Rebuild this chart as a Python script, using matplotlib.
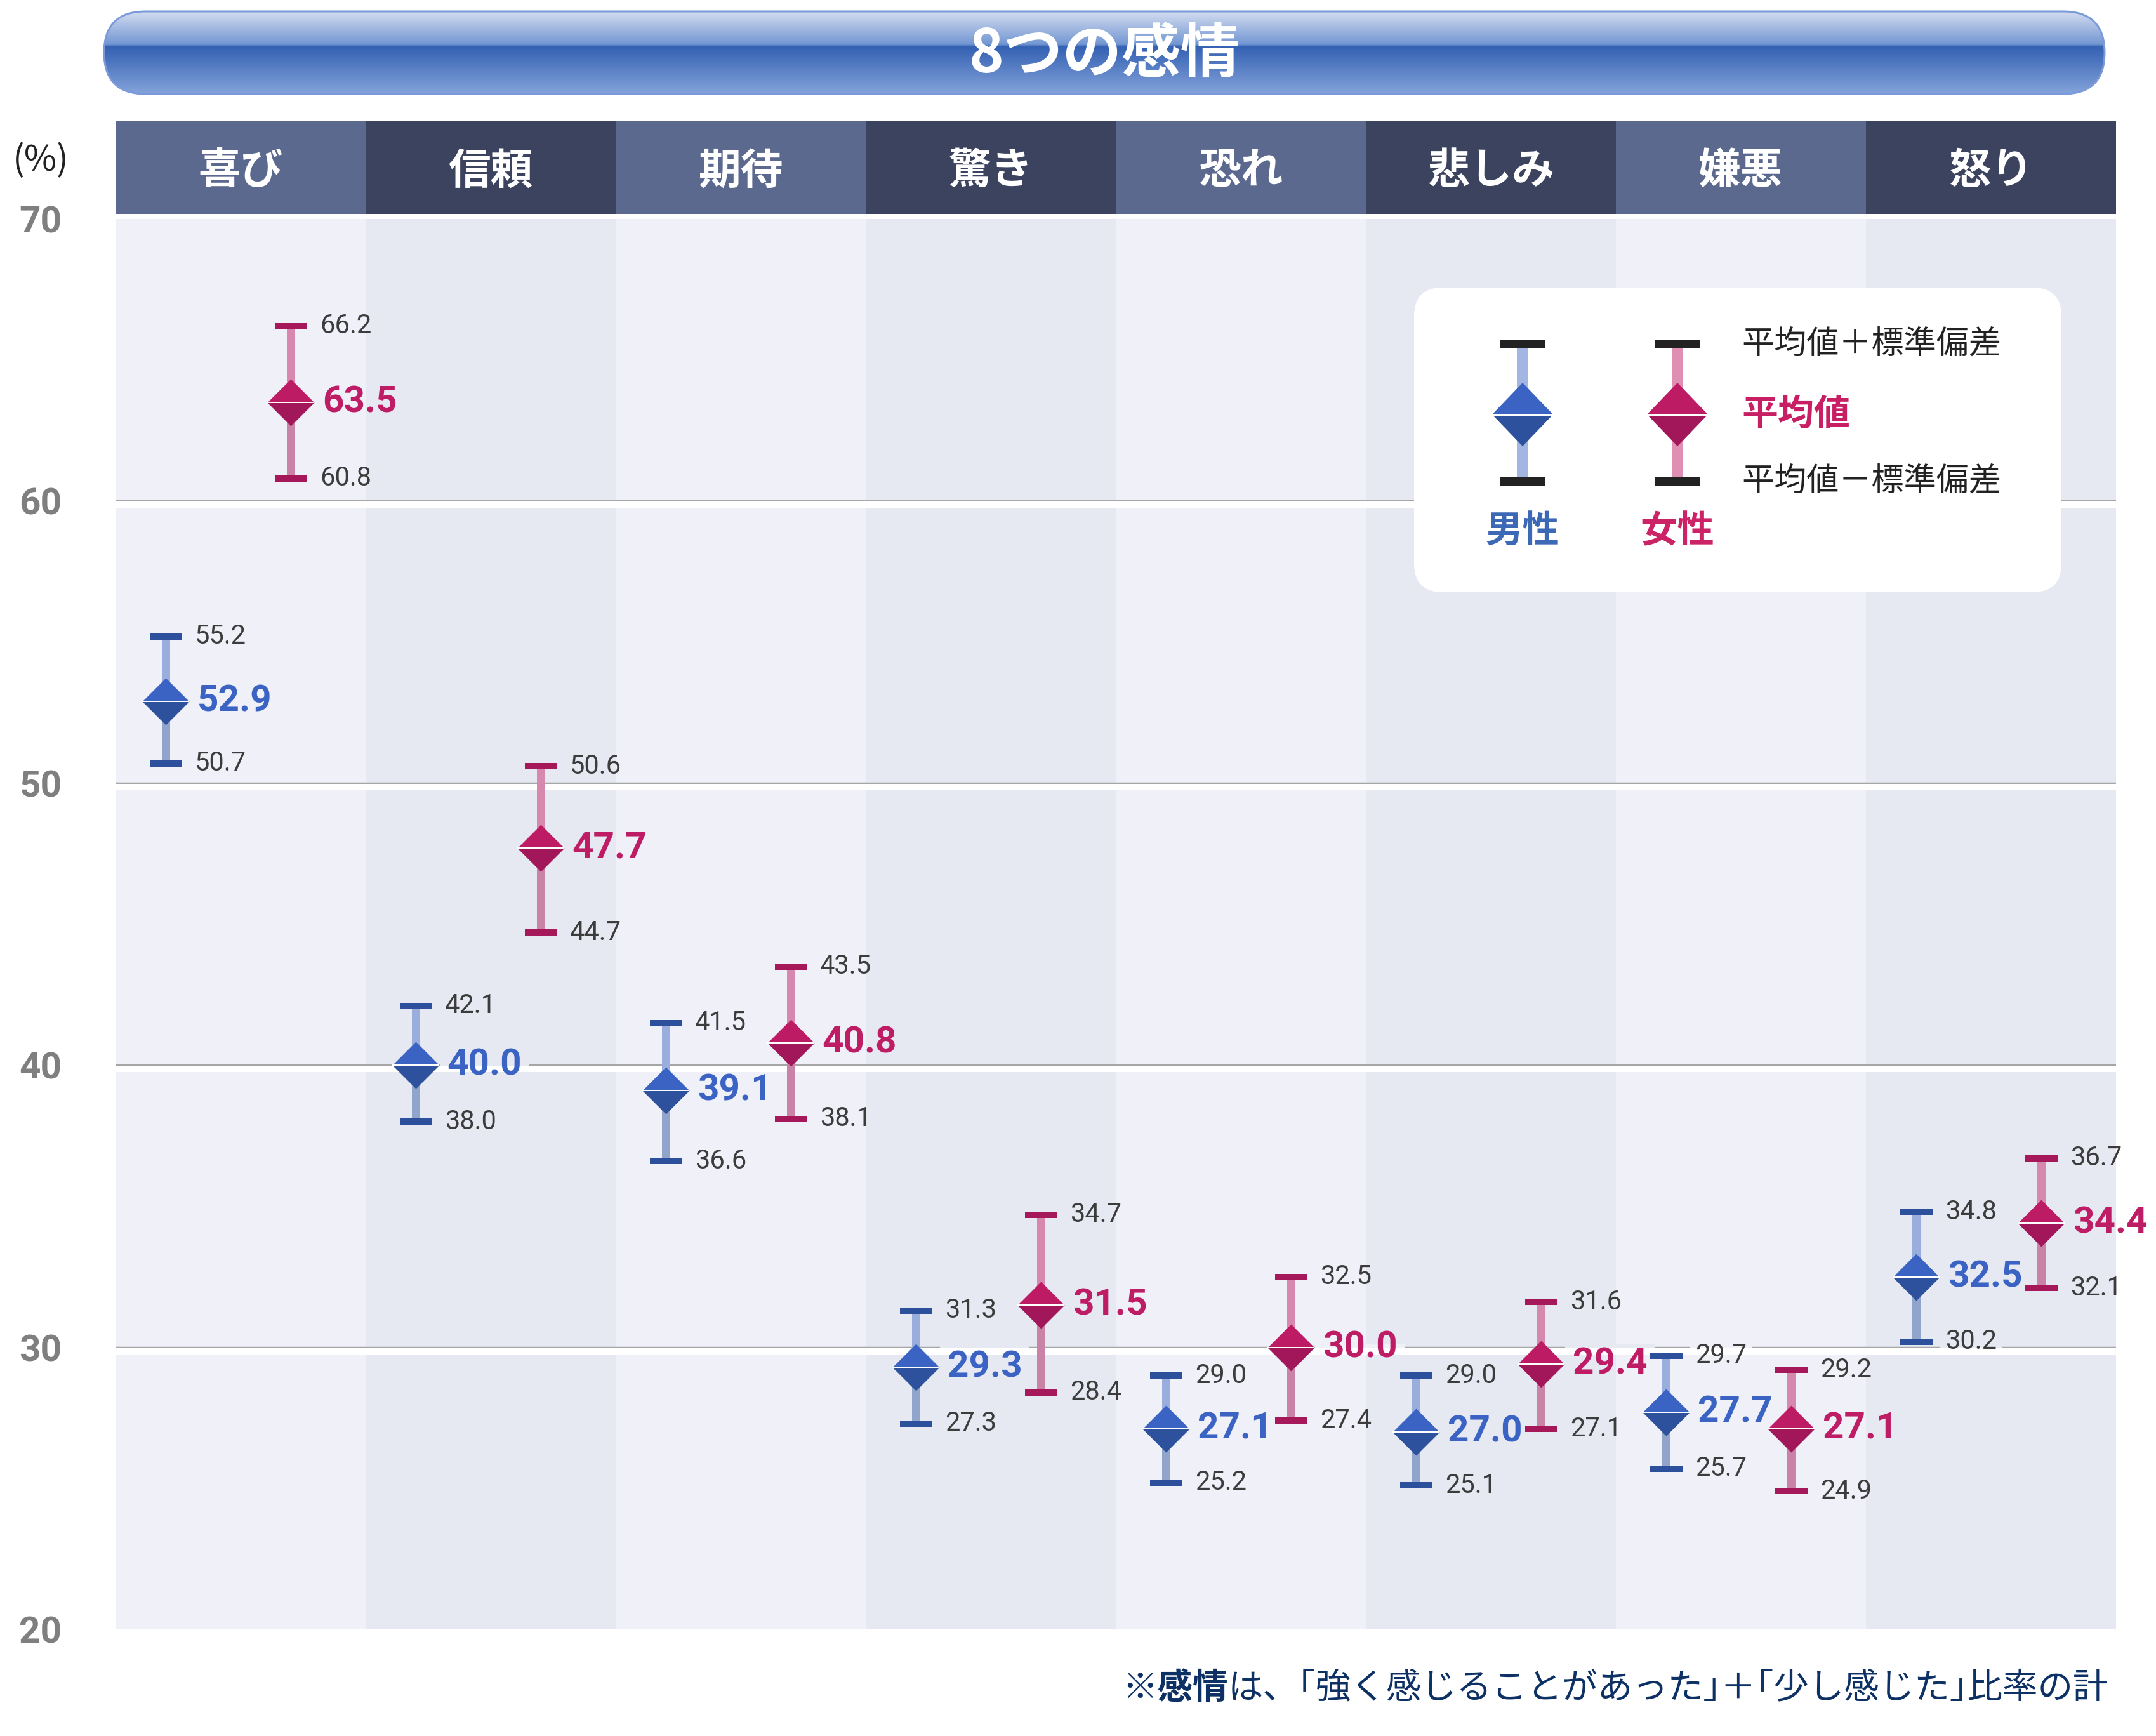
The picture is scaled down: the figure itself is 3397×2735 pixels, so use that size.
import numpy as np
import matplotlib
matplotlib.use('Agg')
import matplotlib.pyplot as plt
import matplotlib.transforms as mtransforms
from matplotlib.patches import FancyBboxPatch, Rectangle, Polygon
from matplotlib.colors import LinearSegmentedColormap

# data
emotions = ['喜び', '信頼', '期待', '驚き', '恐れ', '悲しみ', '嫌悪', '怒り']
male_mean = [52.9, 40.0, 39.1, 29.3, 27.1, 27.0, 27.7, 32.5]
male_upper = [55.2, 42.1, 41.5, 31.3, 29.0, 29.0, 29.7, 34.8]
male_lower = [50.7, 38.0, 36.6, 27.3, 25.2, 25.1, 25.7, 30.2]
female_mean = [63.5, 47.7, 40.8, 31.5, 30.0, 29.4, 27.1, 34.4]
female_upper = [66.2, 50.6, 43.5, 34.7, 32.5, 31.6, 29.2, 36.7]
female_lower = [60.8, 44.7, 38.1, 28.4, 27.4, 27.1, 24.9, 32.1]
y_ticks = [20, 30, 40, 50, 60, 70]
grid_levels = [30, 40, 50, 60]

title = '8つの感情'
footnote_bold = '※感情'
footnote = 'は、｢強く感じることがあった｣＋｢少し感じた｣比率の計'

W, H = 3398, 2735
DPI = 200
PX = 72 / DPI  # points per pixel

JP = ['Noto Sans CJK JP', 'DejaVu Sans']
NUM = ['Roboto', 'DejaVu Sans']

COL_BG = ['#EFF0F8', '#E6E9F2']
HEAD_BG = ['#5C698F', '#3B435E']
MALE = dict(up='#9AAEDD', low='#91A4CB', cap='#2D509D', top='#3A63C4', bot='#2D519C', text='#3A63C4')
FEMALE = dict(up='#D788AE', low='#C883A7', cap='#A5185A', top='#BD1C64', bot='#A2175A', text='#BE1C64')

fig = plt.figure(figsize=(W / DPI, H / DPI), dpi=DPI)


def frac(x0, y0, x1, y1):
    # pixel box (top-left origin) -> figure fraction rect
    return [x0 / W, 1 - y1 / H, (x1 - x0) / W, (y1 - y0) / H]


# background layer in pixel coordinates
bg = fig.add_axes([0, 0, 1, 1], zorder=0)
bg.set_xlim(0, W)
bg.set_ylim(H, 0)
bg.axis('off')

# title bar with glossy gradient
stops = [(0.0, '#D3DCF0'), (0.40, '#7296D2'), (0.425, '#3461B3'), (1.0, '#84A3DA')]
cmap = LinearSegmentedColormap.from_list('title', stops)
bar = FancyBboxPatch((164, 18), 3152, 130, boxstyle='round,pad=0,rounding_size=65',
                     fc='none', ec='#7A9ADA', lw=3 * PX, zorder=3)
bg.add_patch(bar)
im = bg.imshow(np.linspace(0, 1, 256).reshape(-1, 1), extent=(164, 3316, 148, 18),
               aspect='auto', cmap=cmap, zorder=2)
im.set_clip_path(bar)
bg.text(1740, 86, title, ha='center', va='center', color='white', fontsize=33.5,
        fontweight='bold', family=JP, zorder=4)

bg.text(64, 253, '(%)', ha='center', va='center', color='#222222', fontsize=20, family=JP)

# footnote
fn = bg.text(3322, 2660, footnote, ha='right', va='center', color='#0D3164',
             fontsize=20, family=JP)
bg.annotate(footnote_bold, xy=(0, 0.5), xycoords=fn, ha='right', va='center',
            color='#0D3164', fontsize=20, fontweight='bold', family=JP)

# header band
hx = fig.add_axes(frac(182, 191, 3334, 337), zorder=1)
hx.set_xlim(-0.5, len(emotions) - 0.5)
hx.set_ylim(0, 1)
hx.axis('off')
for i, name in enumerate(emotions):
    hx.axvspan(i - 0.5, i + 0.5, color=HEAD_BG[i % 2], lw=0)
    hx.text(i, 0.46, name, ha='center', va='center', color='white', fontsize=24,
            fontweight='bold', family=JP)

# main plot
ax = fig.add_axes(frac(182, 345, 3334, 2567), zorder=1)
ax.set_xlim(-0.5, len(emotions) - 0.5)
ax.set_ylim(20, 70)
for s in ax.spines.values():
    s.set_visible(False)
ax.set_facecolor('none')
ax.set_xticks([])
ax.set_yticks(y_ticks)
ax.tick_params(axis='y', length=0, pad=118 * PX)
for t in ax.get_yticklabels():
    t.set_horizontalalignment('center')
    t.set_fontsize(21)
    t.set_fontweight('bold')
    t.set_color('#7F7F7F')
    t.set_family(NUM)

for i in range(len(emotions)):
    ax.axvspan(i - 0.5, i + 0.5, color=COL_BG[i % 2], lw=0, zorder=0)

band = ax.get_yaxis_transform() + mtransforms.ScaledTranslation(0, -6 / DPI, fig.dpi_scale_trans)
for g in grid_levels:
    ax.axhline(g, color='#A6A6A6', lw=2.5 * PX, zorder=2)
    ax.plot([0, 1], [g, g], transform=band, color='white', lw=10 * PX,
            solid_capstyle='butt', zorder=3)

TOP_HALF = [(-1, 0), (0, 1), (1, 0), (-1, 0)]
BOT_HALF = [(-1, 0), (0, -1), (1, 0), (-1, 0)]


def put_label(x, y, s, dx, col, reach, **kw):
    ax.annotate(s, (x, y), xytext=(dx * PX, 0), textcoords='offset points',
                ha='left', va='center', zorder=8, annotation_clip=False, **kw)
    near = min(grid_levels, key=lambda g: abs(g - y))
    if abs(near - y) < reach:
        # hide the gray grid line behind the label
        hid = ax.annotate(s, (x, y), xytext=(dx * PX, 0), textcoords='offset points',
                          ha='left', va='center', zorder=2.5, annotation_clip=False,
                          bbox=dict(boxstyle='square,pad=0.2', fc=COL_BG[col % 2], ec='none'),
                          **dict(kw, color=COL_BG[col % 2]))
        clip = Rectangle((-0.5, near - 0.12), len(emotions), 0.24, transform=ax.transData)
        hid.set_clip_path(clip)


def draw_series(offset, mean, upper, lower, c):
    xs = np.arange(len(mean)) + offset
    ax.vlines(xs, mean, upper, color=c['up'], lw=13 * PX, zorder=4)
    ax.vlines(xs, lower, mean, color=c['low'], lw=13 * PX, zorder=4)
    for v in (upper, lower):
        ax.plot(xs, v, ls='none', marker='_', ms=51 * PX, mew=10 * PX, color=c['cap'], zorder=5)
    ax.plot(xs, mean, ls='none', marker=TOP_HALF, ms=74 * PX, mew=0, color=c['top'], zorder=6)
    ax.plot(xs, mean, ls='none', marker=BOT_HALF, ms=74 * PX, mew=0, color=c['bot'], zorder=6)
    ax.plot(xs, mean, ls='none', marker='_', ms=74 * PX, mew=2 * PX, color='white', zorder=7)
    for i, x in enumerate(xs):
        col = int(round(x + 0.15))
        put_label(x, upper[i], f'{upper[i]:.1f}', 46, col, 0.45, fontsize=15,
                  color='#3C3C3C', family=NUM)
        put_label(x, lower[i], f'{lower[i]:.1f}', 46, col, 0.45, fontsize=15,
                  color='#3C3C3C', family=NUM)
        put_label(x, mean[i], f'{mean[i]:.1f}', 50, col, 0.7, fontsize=21,
                  fontweight='bold', color=c['text'], family=NUM)


draw_series(-0.3, male_mean, male_upper, male_lower, MALE)
draw_series(0.2, female_mean, female_upper, female_lower, FEMALE)

# legend overlay in pixel coordinates
ov = fig.add_axes([0, 0, 1, 1], zorder=3)
ov.set_xlim(0, W)
ov.set_ylim(H, 0)
ov.axis('off')
ov.add_patch(FancyBboxPatch((2228, 453), 1020, 480, boxstyle='round,pad=0,rounding_size=45',
                            fc='white', ec='none'))
for kx, c, name, tc in [(2399, '#A3B5E3', '男性', '#3D68B5'), (2643, '#DE8FB3', '女性', '#CC2366')]:
    ov.add_patch(Rectangle((kx - 8.5, 542), 17, 216, fc=c, ec='none'))
    for cy in (542, 758):
        ov.add_patch(Rectangle((kx - 35, cy - 7), 70, 14, fc='#222222', ec='none'))
    dc = MALE if kx < 2500 else FEMALE
    ov.add_patch(Polygon([(kx - 48, 653), (kx, 603), (kx + 48, 653)], fc=dc['top'], ec='none'))
    ov.add_patch(Polygon([(kx - 48, 653), (kx, 703), (kx + 48, 653)], fc=dc['bot'], ec='none'))
    ov.plot([kx - 48, kx + 48], [653, 653], color='white', lw=3 * PX)
    ov.text(kx, 837, name, ha='center', va='center', color=tc, fontsize=21,
            fontweight='bold', family=JP)
ov.text(2744, 542, '平均値＋標準偏差', ha='left', va='center', color='#222222', fontsize=18.4, family=JP)
ov.text(2744, 653, '平均値', ha='left', va='center', color='#C81E63', fontsize=20.5,
        fontweight='bold', family=JP)
ov.text(2744, 758, '平均値－標準偏差', ha='left', va='center', color='#222222', fontsize=18.4, family=JP)

fig.savefig('out.png', dpi=DPI, facecolor='white')
